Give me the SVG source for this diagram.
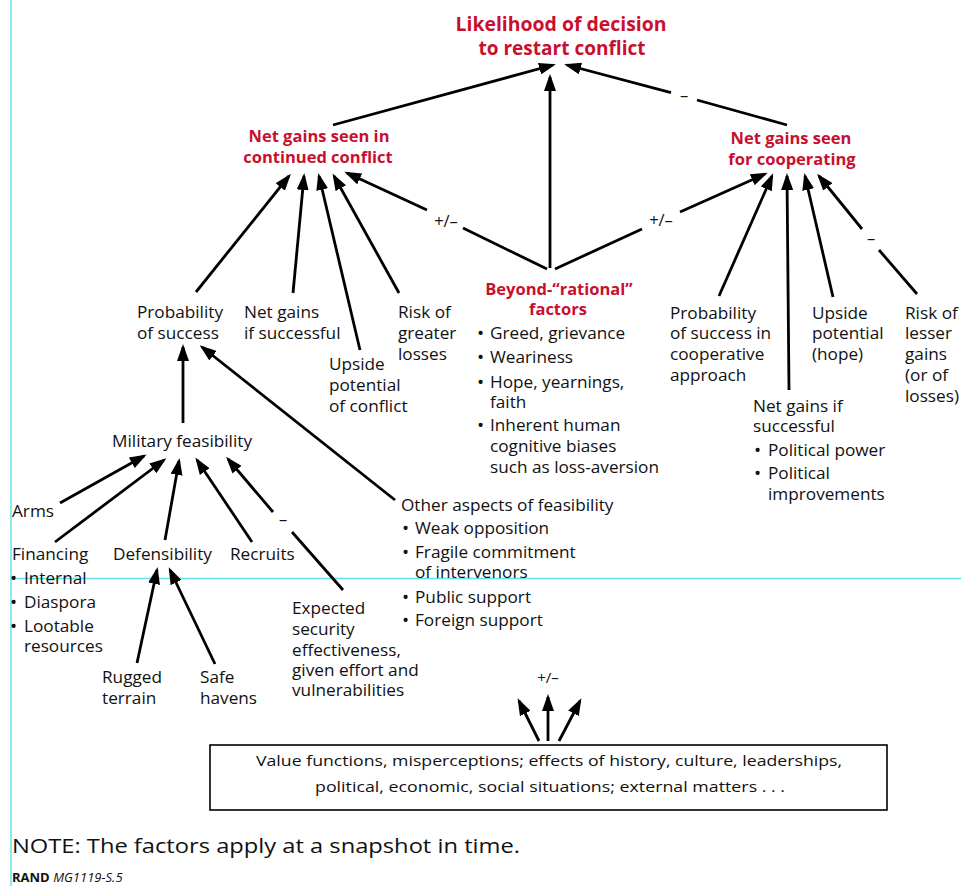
<svg xmlns="http://www.w3.org/2000/svg" width="961" height="886" viewBox="0 0 961 886">
<style>
text{font-family:"Open Sans","Noto Sans","Liberation Sans",sans-serif;fill:#111}
.t{font-size:17.2px}
.b{font-size:19px}
.h{font-size:16.5px;font-weight:bold;fill:#c8102e}
.ttl{font-size:20px;font-weight:bold;fill:#c8102e}
.s{font-size:15px}
.l{font-size:16.5px}
.m{text-anchor:middle}
.c line{stroke:#000;stroke-width:2.8;fill:none}
.a{marker-end:url(#ah)}
.guide{stroke:#62e4ee;stroke-width:1.5}
</style>
<defs>
<marker id="ah" markerUnits="userSpaceOnUse" markerWidth="17" markerHeight="12" refX="14" refY="6" orient="auto"><path d="M0,0 L17,6 L0,12 z" fill="#000"/></marker>
</defs>
<rect width="961" height="886" fill="#fff"/>
<g id="guides">
<line class="guide" x1="11" y1="0" x2="11" y2="886"/>
<line class="guide" x1="11" y1="578.5" x2="961" y2="578.5"/>
</g>

<g id="connectors" class="c">
<line class="a" x1="333" y1="125" x2="553" y2="65"/>
<line class="a" x1="550" y1="268" x2="550" y2="77"/>
<line x1="787" y1="125" x2="697" y2="100"/>
<line class="a" x1="671" y1="92.6" x2="567" y2="65"/>
<line x1="547" y1="269" x2="463" y2="228"/>
<line class="a" x1="427" y1="210" x2="347" y2="173"/>
<line x1="555" y1="269" x2="642" y2="229"/>
<line class="a" x1="680" y1="212" x2="765" y2="174"/>
<line class="a" x1="196" y1="292" x2="289" y2="176"/>
<line class="a" x1="293" y1="293" x2="304" y2="176"/>
<line class="a" x1="360" y1="350" x2="319" y2="176"/>
<line class="a" x1="399" y1="293" x2="334" y2="176"/>
<line class="a" x1="719" y1="296" x2="772" y2="176"/>
<line class="a" x1="789" y1="390" x2="787" y2="176"/>
<line class="a" x1="833" y1="297" x2="805" y2="176"/>
<line x1="917" y1="294" x2="879" y2="250"/>
<line class="a" x1="862" y1="229" x2="819" y2="176"/>
<line class="a" x1="183" y1="423" x2="183" y2="347"/>
<line class="a" x1="395" y1="500" x2="202" y2="347"/>
<line class="a" x1="60" y1="503" x2="144" y2="456"/>
<line class="a" x1="55" y1="542" x2="164" y2="460"/>
<line class="a" x1="165" y1="540" x2="179" y2="461"/>
<line class="a" x1="252" y1="542" x2="197" y2="460"/>
<line x1="343" y1="590" x2="292" y2="532"/>
<line class="a" x1="273" y1="512" x2="228" y2="459"/>
<line class="a" x1="137" y1="663" x2="157" y2="570"/>
<line class="a" x1="215" y1="664" x2="170" y2="570"/>
<line class="a" x1="539" y1="741" x2="519" y2="701"/>
<line class="a" x1="548" y1="741" x2="548" y2="697"/>
<line class="a" x1="559" y1="741" x2="580" y2="701"/>
<text class="l m" x="684" y="101">–</text>
<text class="l m" x="446" y="227">+/–</text>
<text class="l m" x="661" y="226">+/–</text>
<text class="l m" x="871" y="244">–</text>
<text class="l m" x="283" y="525">–</text>
<text class="s m" x="548" y="683">+/–</text>
</g>

<g id="n-likelihood">
<text class="ttl m" x="561" y="31" textLength="211" lengthAdjust="spacingAndGlyphs">Likelihood of decision</text>
<text class="ttl m" x="562" y="55" textLength="167" lengthAdjust="spacingAndGlyphs">to restart conflict</text>
</g>
<g id="n-netgains-conflict">
<text class="h m" x="319" y="142">Net gains seen in</text>
<text class="h m" x="318" y="163">continued conflict</text>
</g>
<g id="n-netgains-coop">
<text class="h m" x="791" y="144">Net gains seen</text>
<text class="h m" x="792" y="165">for cooperating</text>
</g>
<g id="n-beyond">
<text class="h m" x="559" y="295">Beyond-“rational”</text>
<text class="h m" x="558" y="315">factors</text>
<text class="t"><tspan class="b" x="477" y="340">•</tspan><tspan x="490" y="339">Greed, grievance</tspan>
<tspan class="b" x="477" y="364">•</tspan><tspan x="490" y="363">Weariness</tspan>
<tspan class="b" x="477" y="389">•</tspan><tspan x="490" y="388">Hope, yearnings,</tspan>
<tspan x="490" y="408">faith</tspan>
<tspan class="b" x="477" y="432">•</tspan><tspan x="490" y="431">Inherent human</tspan>
<tspan x="490" y="452">cognitive biases</tspan>
<tspan x="490" y="473">such as loss-aversion</tspan></text>
</g>
<g id="n-prob-success">
<text class="t"><tspan x="137" y="318">Probability</tspan><tspan x="137" y="339">of success</tspan></text>
</g>
<g id="n-netgains-succ">
<text class="t"><tspan x="244" y="318">Net gains</tspan><tspan x="244" y="339">if successful</tspan></text>
</g>
<g id="n-upside-conflict">
<text class="t"><tspan x="329" y="370">Upside</tspan><tspan x="329" y="391">potential</tspan><tspan x="329" y="412">of conflict</tspan></text>
</g>
<g id="n-risk-greater">
<text class="t"><tspan x="398" y="318">Risk of</tspan><tspan x="398" y="339">greater</tspan><tspan x="398" y="360">losses</tspan></text>
</g>
<g id="n-prob-coop">
<text class="t"><tspan x="670" y="319">Probability</tspan><tspan x="670" y="339">of success in</tspan><tspan x="670" y="360">cooperative</tspan><tspan x="670" y="381">approach</tspan></text>
</g>
<g id="n-upside-hope">
<text class="t"><tspan x="812" y="319">Upside</tspan><tspan x="812" y="339">potential</tspan><tspan x="812" y="360">(hope)</tspan></text>
</g>
<g id="n-risk-lesser">
<text class="t"><tspan x="905" y="319">Risk of</tspan><tspan x="905" y="339">lesser</tspan><tspan x="905" y="360">gains</tspan><tspan x="905" y="381">(or of</tspan><tspan x="905" y="402">losses)</tspan></text>
</g>
<g id="n-netgains-coop-succ">
<text class="t"><tspan x="753" y="412">Net gains if</tspan><tspan x="753" y="432">successful</tspan>
<tspan class="b" x="754" y="457">•</tspan><tspan x="768" y="456">Political power</tspan>
<tspan class="b" x="754" y="480">•</tspan><tspan x="768" y="479">Political</tspan>
<tspan x="768" y="500">improvements</tspan></text>
</g>
<g id="n-military">
<text class="t" x="112" y="447">Military feasibility</text>
</g>
<g id="n-arms">
<text class="t" x="12" y="517">Arms</text>
</g>
<g id="n-financing">
<text class="t"><tspan x="12" y="560">Financing</tspan>
<tspan class="b" x="10" y="585">•</tspan><tspan x="24" y="584">Internal</tspan>
<tspan class="b" x="10" y="609">•</tspan><tspan x="24" y="608">Diaspora</tspan>
<tspan class="b" x="10" y="633">•</tspan><tspan x="24" y="632">Lootable</tspan>
<tspan x="24" y="652">resources</tspan></text>
</g>
<g id="n-defensibility">
<text class="t" x="113" y="560">Defensibility</text>
</g>
<g id="n-recruits">
<text class="t" x="230" y="560">Recruits</text>
</g>
<g id="n-rugged">
<text class="t"><tspan x="102" y="683">Rugged</tspan><tspan x="102" y="704">terrain</tspan></text>
</g>
<g id="n-safe">
<text class="t"><tspan x="200" y="683">Safe</tspan><tspan x="200" y="704">havens</tspan></text>
</g>
<g id="n-expected">
<text class="t"><tspan x="292" y="614">Expected</tspan><tspan x="292" y="635">security</tspan><tspan x="292" y="656">effectiveness,</tspan><tspan x="292" y="676">given effort and</tspan><tspan x="292" y="696">vulnerabilities</tspan></text>
</g>
<g id="n-other">
<text class="t"><tspan x="401" y="511">Other aspects of feasibility</tspan>
<tspan class="b" x="402" y="535">•</tspan><tspan x="415" y="534">Weak opposition</tspan>
<tspan class="b" x="402" y="559">•</tspan><tspan x="415" y="558">Fragile commitment</tspan>
<tspan x="415" y="578">of intervenors</tspan>
<tspan class="b" x="402" y="604">•</tspan><tspan x="415" y="603">Public support</tspan>
<tspan class="b" x="402" y="627">•</tspan><tspan x="415" y="626">Foreign support</tspan></text>
</g>
<g id="n-context">
<rect x="210" y="745" width="677" height="65" fill="#fff" stroke="#000" stroke-width="1.6"/>
<text class="s m" x="549" y="766" textLength="586" lengthAdjust="spacingAndGlyphs">Value functions, misperceptions; effects of history, culture, leaderships,</text>
<text class="s m" x="550" y="792" textLength="470" lengthAdjust="spacingAndGlyphs">political, economic, social situations; external matters . . .</text>
</g>
<g id="note">
<text x="12" y="853" font-size="20" textLength="508" lengthAdjust="spacingAndGlyphs">NOTE: The factors apply at a snapshot in time.</text>
<text x="12" y="882" font-size="13"><tspan font-weight="bold">RAND</tspan> <tspan font-style="italic">MG1119-S.5</tspan></text>
</g>
</svg>
